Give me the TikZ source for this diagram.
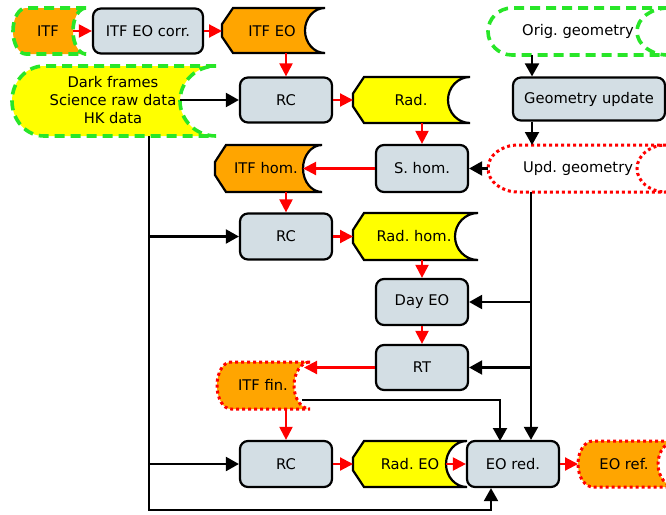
\documentclass[tikz,border=0pt]{standalone}
\usepackage{fontspec}
\setmainfont{DejaVu Sans}
\usetikzlibrary{arrows.meta,calc}
\frenchspacing
\definecolor{boxc}{RGB}{211,222,228}
\definecolor{orng}{RGB}{255,165,0}
\definecolor{ylw}{RGB}{255,255,0}
\definecolor{grn}{RGB}{40,230,40}
\definecolor{rd}{RGB}{255,0,0}
% data shape: convex left, concave right
\newcommand{\datashape}[7]{%
  \pgfmathsetmacro\dsM{(#4+#5)/2}%
  \pgfmathsetmacro\dsR{(#5-#4)/2*0.5523}%
  \pgfmathsetmacro\dsA{#2+#6}%
  \pgfmathsetmacro\dsB{#2+#6*0.4477}%
  \pgfmathsetmacro\dsC{#3-#7}%
  \pgfmathsetmacro\dsD{#3-#7*0.5523}%
  \path[#1] (#3,#4) -- (\dsA,#4) .. controls (\dsB,#4) and (#2,\dsM-\dsR) .. (#2,\dsM)
    .. controls (#2,\dsM+\dsR) and (\dsB,#5) .. (\dsA,#5) -- (#3,#5)
    .. controls (\dsD,#5) and (\dsC,\dsM+\dsR) .. (\dsC,\dsM)
    .. controls (\dsC,\dsM-\dsR) and (\dsD,#4) .. cycle;
}
% document shape: chamfered left, concave right
\newcommand{\docshape}[7]{%
  \pgfmathsetmacro\dsM{(#4+#5)/2}%
  \pgfmathsetmacro\dsR{(#5-#4)/2*0.5523}%
  \pgfmathsetmacro\dsV{(#5-#4)*0.36}%
  \pgfmathsetmacro\dsA{#2+#6}%
  \pgfmathsetmacro\dsC{#3-#7}%
  \pgfmathsetmacro\dsD{#3-#7*0.5523}%
  \path[#1] (#3,#4) -- (\dsA,#4) -- (#2,#4+\dsV) -- (#2,#5-\dsV) -- (\dsA,#5) -- (#3,#5)
    .. controls (\dsD,#5) and (\dsC,\dsM+\dsR) .. (\dsC,\dsM)
    .. controls (\dsC,\dsM-\dsR) and (\dsD,#4) .. cycle;
}
\begin{document}
\begin{tikzpicture}[x=1pt,y=-1pt,
  font=\fontsize{14.7}{18}\selectfont,
  procbox/.style={draw=black, fill=boxc, line width=2.2pt, rounded corners=8pt, inner sep=0pt, minimum width=92pt, minimum height=46pt},
  greenb/.style={draw=grn, line width=3.6pt, dash pattern=on 10pt off 6pt},
  redd/.style={draw=rd, line width=3pt, dash pattern=on 3pt off 3pt},
  blkb/.style={draw=black, line width=2.2pt},
  redarr/.style={draw=rd, line width=2.1pt, -{Triangle[length=13pt,width=13pt]}},
  blkarr/.style={draw=black, line width=2.1pt, -{Triangle[length=13pt,width=14pt]}}]
\useasboundingbox (0,0) rectangle (666,514);
\clip (0,0) rectangle (666,514);

% ---- data / document shapes ----
\datashape{fill=orng, greenb}{13}{86}{8}{54}{13}{13}
\node (itf) at (48,31) {ITF};
\datashape{fill=ylw, greenb}{12}{216}{66}{136}{32}{36}
\node[align=center] (dark) at (113,100) {Dark frames\\Science raw data\\HK data};
\datashape{fill=white, greenb}{488}{668}{8}{55}{24}{31}
\node (orig) at (578,31) {Orig. geometry};
\datashape{fill=white, redd}{488}{666}{145}{192}{30}{29}
\node (upd) at (578,168.5) {Upd. geometry};
\datashape{fill=orng, redd}{217}{310}{362}{409}{14}{16}
\node (itffin) at (263,385) {ITF fin.};
\datashape{fill=orng, redd}{578}{676}{441}{487}{15}{18}
\node (eoref) at (624,464) {EO ref.};

\docshape{fill=orng, blkb}{222}{325}{8}{53}{11}{20}
\node (itfeo) at (272,31) {ITF EO};
\docshape{fill=ylw, blkb}{353}{470}{77}{123}{11}{22}
\node (rad) at (411,100) {Rad.};
\docshape{fill=orng, blkb}{215}{322}{145}{192}{11}{19}
\node (itfhom) at (266,168.5) {ITF hom.};
\docshape{fill=ylw, blkb}{353}{478}{213}{260}{11}{23}
\node (radhom) at (414,236.5) {Rad. hom.};
\docshape{fill=ylw, blkb}{353}{467}{441}{487}{11}{21}
\node (radeo) at (410,464) {Rad. EO};

% ---- process boxes ----
\node[procbox, minimum width=110pt, minimum height=45pt] (corr) at (148,31) {ITF EO corr.};
\node[procbox, minimum height=45pt] (rc1) at (286,100) {RC};
\node[procbox, minimum width=152pt, minimum height=43pt] (geo) at (589,99) {Geometry update};
\node[procbox, minimum height=47pt] (shom) at (422,168.5) {S. hom.};
\node[procbox] (rc2) at (286,236.5) {RC};
\node[procbox] (day) at (422,302) {Day EO};
\node[procbox, minimum height=45pt] (rt) at (422,367.5) {RT};
\node[procbox] (rc3) at (286,464) {RC};
\node[procbox] (eored) at (513,464) {EO red.};

% ---- connection points ----
\coordinate (itfR) at (73,31);
\coordinate (itfeoL) at (222,31);
\coordinate (itfeoB) at (286,53);
\coordinate (radL) at (353,100);
\coordinate (radB) at (422,123);
\coordinate (itfhomR) at (303,168.5);
\coordinate (itfhomB) at (286,192);
\coordinate (radhomL) at (353,236.5);
\coordinate (radhomB) at (422,260);
\coordinate (finT) at (304,367.5);
\coordinate (finB) at (286,409);
\coordinate (finR) at (302,400);
\coordinate (radeoL) at (353,464);
\coordinate (radeoR) at (446,464);
\coordinate (eorefL) at (578,464);
\coordinate (origB) at (532,55);
\coordinate (updT) at (532,145);
\coordinate (updL) at (488,168.5);
\coordinate (updB) at (531,192);
\coordinate (darkR) at (180,100);
\coordinate (darkB) at (149,136);
\coordinate (botL) at (149,510);
\coordinate (botR) at (491,510);
\coordinate (eoredT) at (500,441);

% ---- red flow ----
\draw[redarr] (itfR) -- (itfR -| corr.west);
\draw[redarr] (corr.east) -- (corr.east -| itfeoL);
\draw[redarr] (itfeoB) -- (itfeoB |- rc1.north);
\draw[redarr] (rc1.east) -- (rc1.east -| radL);
\draw[redarr] (radB) -- (radB |- shom.north);
\draw[redarr] (shom.west) -- (shom.west -| itfhomR);
\draw[redarr] (itfhomB) -- (itfhomB |- rc2.north);
\draw[redarr] (rc2.east) -- (rc2.east -| radhomL);
\draw[redarr] (radhomB) -- (radhomB |- day.north);
\draw[redarr] (day.south) -- (rt.north);
\draw[redarr] (rt.west) -- (rt.west -| finT);
\draw[redarr] (finB) -- (finB |- rc3.north);
\draw[redarr] (rc3.east) -- (rc3.east -| radeoL);
\draw[redarr] (radeoR) -- (radeoR -| eored.west);
\draw[redarr] (eored.east) -- (eored.east -| eorefL);

% ---- black flow ----
\draw[blkarr] (origB) -- (origB |- geo.north);
\draw[blkarr] (updT |- geo.south) -- (updT);
\draw[blkarr] (updL) -- (updL -| shom.east);
\draw[blkarr] (darkR) -- (darkR -| rc1.west);
\draw[blkarr] (darkB) -- (botL) -- (botR) -- (botR |- eored.south);
\draw[blkarr] (darkB |- rc2.west) -- (rc2.west);
\draw[blkarr] (darkB |- rc3.west) -- (rc3.west);
\draw[blkarr] (updB) -- (updB |- eored.north);
\draw[blkarr] (updB |- day.east) -- (day.east);
\draw[blkarr] (updB |- rt.east) -- (rt.east);
\draw[blkarr] (finR) -| (eoredT);
\end{tikzpicture}
\end{document}
